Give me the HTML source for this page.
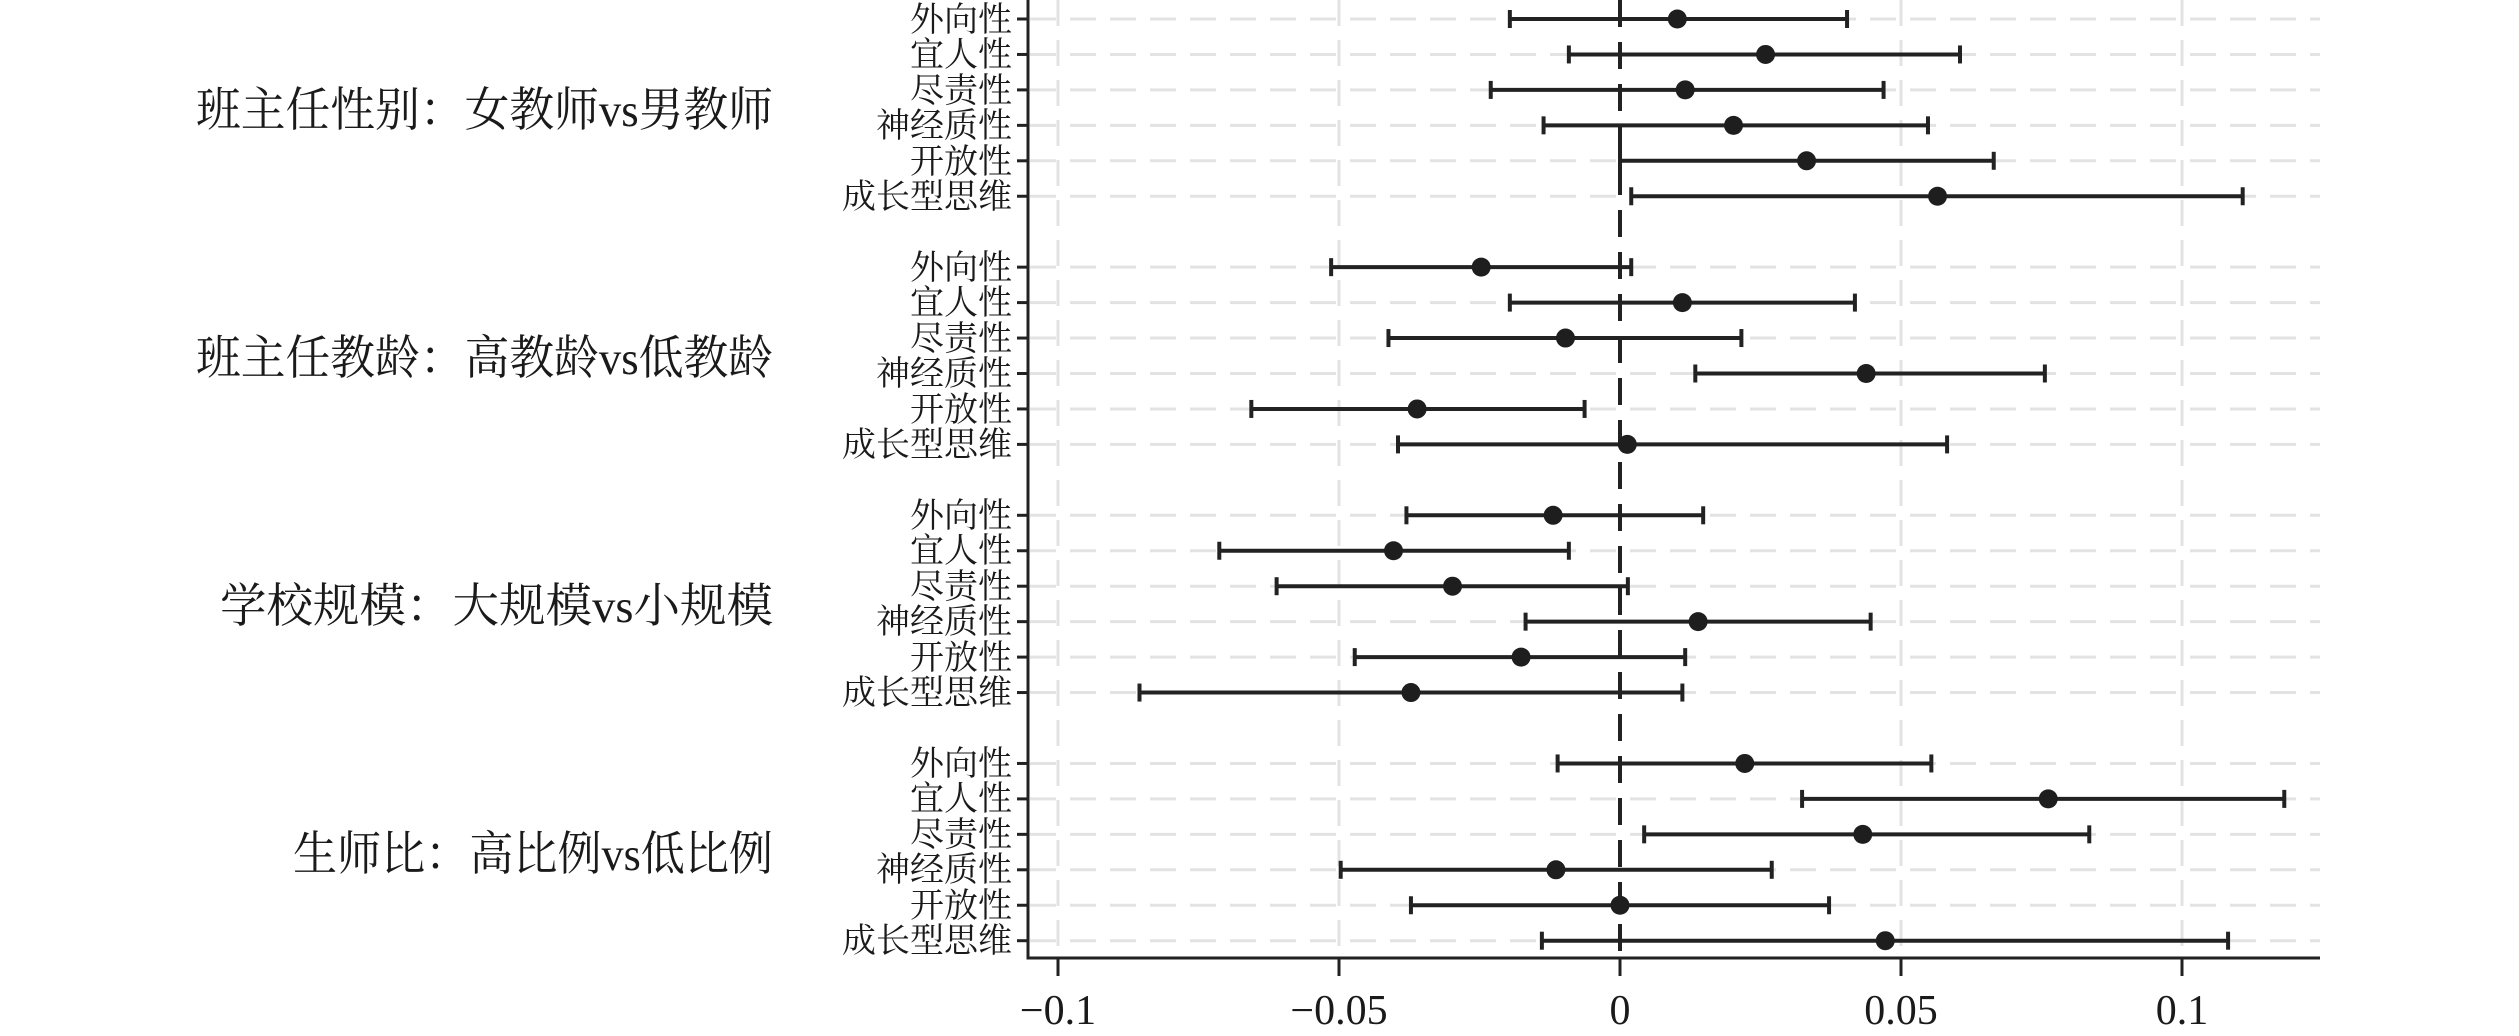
<!DOCTYPE html>
<html><head><meta charset="utf-8"><style>
html,body{margin:0;padding:0;background:#fff;}
svg{display:block;}
.t{font-family:"Liberation Serif","Noto Serif CJK SC","Noto Sans CJK SC",serif;fill:#1a1a1a;}
</style></head><body>
<svg id="s" width="2519" height="1036" viewBox="0 0 2519 1036" xmlns="http://www.w3.org/2000/svg">
<g id="grid"></g>
<g id="bars"></g>
<text class="t" x="196" y="126" font-size="47" textLength="577" lengthAdjust="spacingAndGlyphs">班主任性别：女教师vs男教师</text>
<text class="t" x="196" y="374" font-size="47" textLength="577" lengthAdjust="spacingAndGlyphs">班主任教龄：高教龄vs低教龄</text>
<text class="t" x="220" y="622" font-size="47" textLength="553" lengthAdjust="spacingAndGlyphs">学校规模：大规模vs小规模</text>
<text class="t" x="293" y="870" font-size="47" textLength="480" lengthAdjust="spacingAndGlyphs">生师比：高比例vs低比例</text>
<g class="t" font-size="34" text-anchor="end">
<text x="1012" y="31">外向性</text><text x="1012" y="66">宜人性</text><text x="1012" y="102">尽责性</text><text x="1012" y="137">神经质性</text><text x="1012" y="173">开放性</text><text x="1012" y="208">成长型思维</text>
<text x="1012" y="279">外向性</text><text x="1012" y="314">宜人性</text><text x="1012" y="350">尽责性</text><text x="1012" y="385">神经质性</text><text x="1012" y="421">开放性</text><text x="1012" y="456">成长型思维</text>
<text x="1012" y="527">外向性</text><text x="1012" y="562">宜人性</text><text x="1012" y="598">尽责性</text><text x="1012" y="633">神经质性</text><text x="1012" y="669">开放性</text><text x="1012" y="704">成长型思维</text>
<text x="1012" y="775">外向性</text><text x="1012" y="810">宜人性</text><text x="1012" y="846">尽责性</text><text x="1012" y="881">神经质性</text><text x="1012" y="917">开放性</text><text x="1012" y="952">成长型思维</text>
</g>
<g class="t" font-size="42" text-anchor="middle">
<text x="1058" y="1024">−0.1</text><text x="1339" y="1024">−0.05</text><text x="1620" y="1024">0</text><text x="1901" y="1024">0.05</text><text x="2182" y="1024">0.1</text>
</g>
</svg>
<script>
(function(){
var NS="http://www.w3.org/2000/svg";
function el(p,n,a){var e=document.createElementNS(NS,n);for(var k in a)e.setAttribute(k,a[k]);p.appendChild(e);return e;}
var g=document.getElementById('grid'),b=document.getElementById('bars');
var R=2320;
function X(v){return 1620+v*5620;}
function Y(i){return 19+35.45*i;}
var ticks=[-0.1,-0.05,0,0.05,0.1];
ticks.forEach(function(t){ if(t!==0) el(g,'line',{x1:X(t),x2:X(t),y1:0,y2:958,stroke:'#e3e3e3','stroke-width':3,'stroke-dasharray':'26 14'});});
var d=[
[[-0.0196,0.0102,0.0404],[-0.0091,0.0259,0.0605],[-0.023,0.0116,0.0469],[-0.0136,0.0202,0.0548],[0,0.0332,0.0665],[0.002,0.0565,0.1108]],
[[-0.0514,-0.0247,0.002],[-0.0196,0.0111,0.0418],[-0.0412,-0.0097,0.0216],[0.0134,0.0438,0.0756],[-0.0656,-0.0361,-0.0063],[-0.0395,0.0013,0.0582]],
[[-0.038,-0.0119,0.0148],[-0.0713,-0.0403,-0.0091],[-0.0611,-0.0298,0.0014],[-0.0168,0.0139,0.0446],[-0.0472,-0.0176,0.0116],[-0.0855,-0.0372,0.0111]],
[[-0.0111,0.0222,0.0554],[0.0324,0.0762,0.1182],[0.0043,0.0432,0.0835],[-0.0497,-0.0114,0.027],[-0.0372,0,0.0372],[-0.0139,0.0472,0.1082]]];
for(var k=0;k<4;k++)for(var j=0;j<6;j++){
 var y=Y(7*k+j);
 el(g,'line',{x1:1030,x2:R,y1:y,y2:y,stroke:'#e3e3e3','stroke-width':3,'stroke-dasharray':'26 14'});
 el(g,'line',{x1:1017,x2:1028,y1:y,y2:y,stroke:'#222','stroke-width':3});
}
el(g,'line',{x1:1620,x2:1620,y1:0,y2:958,stroke:'#222','stroke-width':4,'stroke-dasharray':'27 15'});
for(var k=0;k<4;k++)for(var j=0;j<6;j++){
 var y=Y(7*k+j),r=d[k][j];
 el(b,'line',{x1:X(r[0]),x2:X(r[2]),y1:y,y2:y,stroke:'#222','stroke-width':4});
 el(b,'line',{x1:X(r[0]),x2:X(r[0]),y1:y-9,y2:y+9,stroke:'#222','stroke-width':4});
 el(b,'line',{x1:X(r[2]),x2:X(r[2]),y1:y-9,y2:y+9,stroke:'#222','stroke-width':4});
 el(b,'circle',{cx:X(r[1]),cy:y,r:9.5,fill:'#1e1e1e'});
}
el(b,'line',{x1:1028,x2:1028,y1:0,y2:959.5,stroke:'#222','stroke-width':3});
el(b,'line',{x1:1026.5,x2:R,y1:958,y2:958,stroke:'#222','stroke-width':3});
ticks.forEach(function(t){el(b,'line',{x1:X(t),x2:X(t),y1:958,y2:976,stroke:'#222','stroke-width':3});});
})();
</script>
</body></html>
